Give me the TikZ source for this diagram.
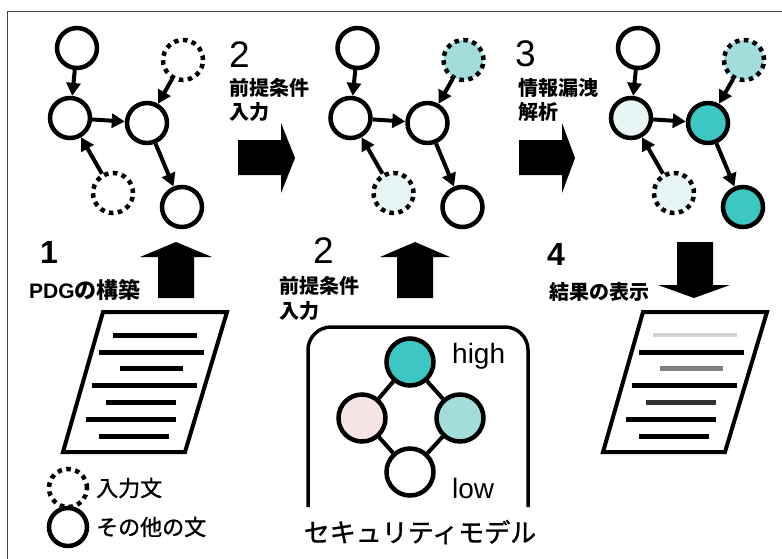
\documentclass[tikz,border=0pt]{standalone}
\usepackage{fontspec}
\setmainfont{Liberation Sans}
\newfontfamily\jp{Noto Sans CJK JP}
\newfontfamily\jpm{Noto Sans CJK JP}[FakeBold=1.2]
\usetikzlibrary{arrows.meta}
\definecolor{tealA}{HTML}{3CC6C4}
\definecolor{tealB}{HTML}{A3DDDB}
\definecolor{tealC}{HTML}{E8F5F5}
\definecolor{pinkA}{HTML}{F6E4E4}
\definecolor{frameC}{HTML}{444444}
\begin{document}
\begin{tikzpicture}[x=1pt,y=-1pt,
  gnode/.style={circle,draw,line width=4.5pt,minimum size=40pt,inner sep=0pt,fill=white},
  gin/.style={gnode,dash pattern=on 4.5pt off 4.5pt},
  garr/.style={line width=4pt,-{Triangle[length=13pt,width=14pt]}},
  bigarrow/.style={fill=black,draw=none},
  docbox/.style={draw,line width=4pt,line join=miter,fill=white},
  docline/.style={line width=5pt},
  lnode/.style={circle,draw,line width=4.5pt,minimum size=47pt,inner sep=0pt},
  jpb/.style={inner sep=0pt,font=\jp\bfseries\fontsize{20}{23}\selectfont,align=left},
  jpr/.style={inner sep=0pt,font=\jpm\fontsize{22}{26}\selectfont},
  bigdigit/.style={inner sep=0pt,anchor=base west,font=\fontsize{37}{40}\selectfont},
  bigdigitb/.style={inner sep=0pt,anchor=base west,font=\bfseries\fontsize{32}{36}\selectfont},
]
\useasboundingbox (0,0) rectangle (782,558);
\clip (0,0) rectangle (782,558);
\fill[white] (0,0) rectangle (782,558);
\draw[frameC,line width=1pt] (7,11) rectangle (800,580);

% ---------- graph 1 ----------
\begin{scope}
\node[gnode] (aT) at (77,48) {};
\node[gin]   (aD) at (183,60) {};
\node[gnode] (aL) at (70,118) {};
\node[gnode] (aM) at (147,123) {};
\node[gin]   (aE) at (113,193) {};
\node[gnode] (aB) at (182,207) {};
\draw[garr] (aT) -- (aL);
\draw[garr] (aL) -- (aM);
\draw[garr] (aD) -- (aM);
\draw[garr] (aE) -- (aL);
\draw[garr] (aM) -- (aB);
\end{scope}

% ---------- graph 2 ----------
\begin{scope}[xshift=280.5pt]
\node[gnode] (bT) at (77,48) {};
\node[gin,fill=tealB]   (bD) at (183,60) {};
\node[gnode] (bL) at (70,118) {};
\node[gnode] (bM) at (147,123) {};
\node[gin,fill=tealC]   (bE) at (113,193) {};
\node[gnode] (bB) at (182,207) {};
\draw[garr] (bT) -- (bL);
\draw[garr] (bL) -- (bM);
\draw[garr] (bD) -- (bM);
\draw[garr] (bE) -- (bL);
\draw[garr] (bM) -- (bB);
\end{scope}

% ---------- graph 3 ----------
\begin{scope}[xshift=561pt]
\node[gnode] (cT) at (77,48) {};
\node[gin,fill=tealB]   (cD) at (183,60) {};
\node[gnode,fill=tealC] (cL) at (70,118) {};
\node[gnode,fill=tealA] (cM) at (147,123) {};
\node[gin,fill=tealC]   (cE) at (113,193) {};
\node[gnode,fill=tealA] (cB) at (182,207) {};
\draw[garr] (cT) -- (cL);
\draw[garr] (cL) -- (cM);
\draw[garr] (cD) -- (cM);
\draw[garr] (cE) -- (cL);
\draw[garr] (cM) -- (cB);
\end{scope}

% ---------- big arrows ----------
\fill[bigarrow] (238,140) -- (281,140) -- (281,123) -- (295,158) -- (281,193) -- (281,175) -- (238,175) -- cycle;
\fill[bigarrow] (519,140) -- (562,140) -- (562,123) -- (575,158) -- (562,193) -- (562,175) -- (519,175) -- cycle;
\fill[bigarrow] (158,298) -- (158,257) -- (140,257) -- (176,242) -- (212,257) -- (194,257) -- (194,298) -- cycle;
\fill[bigarrow] (397,298) -- (397,257) -- (380,257) -- (415,242) -- (450,257) -- (433,257) -- (433,298) -- cycle;
\fill[bigarrow] (677,242) -- (713,242) -- (713,285) -- (730,285) -- (694,298) -- (658,285) -- (677,285) -- cycle;

% ---------- labels ----------
\node[bigdigit] (n2a) at (229,67) {2};
\node[jpb,anchor=west] (t2a) at (229,88) {前提条件};
\node[jpb,anchor=west] (t2b) at (229,112) {入力};
\node[bigdigit] (n3) at (515,66) {3};
\node[jpb,anchor=west] (t3a) at (518,88) {情報漏洩};
\node[jpb,anchor=west] (t3b) at (518,112) {解析};
\node[bigdigitb] (n1) at (40,263) {1};
\node[inner sep=0pt,anchor=west] (t1) at (29,290) {\bfseries\fontsize{21}{26}\selectfont PDG\jp\bfseries\fontsize{22}{26}\selectfont の構築};
\node[bigdigit] (n2b) at (313,263) {2};
\node[jpb,anchor=west] (t2c) at (279,286) {前提条件};
\node[jpb,anchor=west] (t2d) at (279,311) {入力};
\node[bigdigitb] (n4) at (547,265) {4};
\node[jpb,anchor=west] (t4) at (549,292) {結果の表示};

% ---------- documents ----------
\begin{scope}
\draw[docbox] (103,312) -- (227,312) -- (185,452) -- (63,452) -- cycle;
\draw[docline] (113,335) -- (197,335);
\draw[docline] (99,352) -- (204,352);
\draw[docline] (120,368) -- (183,368);
\draw[docline] (92,385) -- (197,385);
\draw[docline] (106,402) -- (176,402);
\draw[docline] (86,419) -- (176,419);
\draw[docline] (99,436) -- (169,436);
\end{scope}
\begin{scope}[xshift=540pt]
\draw[docbox] (103,312) -- (227,312) -- (185,452) -- (63,452) -- cycle;
\draw[docline,black!18,line width=4pt] (113,335) -- (197,335);
\draw[docline] (99,352) -- (204,352);
\draw[docline,black!50] (120,368) -- (183,368);
\draw[docline] (92,385) -- (197,385);
\draw[docline,black!80] (106,402) -- (176,402);
\draw[docline] (86,419) -- (176,419);
\draw[docline] (99,436) -- (169,436);
\end{scope}

% ---------- security model ----------
\draw[line width=3.5pt,rounded corners=23pt] (308,507) -- (308,327) -- (528,327) -- (528,507);
\node[lnode,fill=tealA] (sH) at (410,362) {};
\node[lnode,fill=pinkA] (sL) at (362,418) {};
\node[lnode,fill=tealB] (sR) at (460,418) {};
\node[lnode,fill=white] (sB) at (410,472) {};
\draw[line width=4pt] (sH) -- (sL);
\draw[line width=4pt] (sH) -- (sR);
\draw[line width=4pt] (sL) -- (sB);
\draw[line width=4pt] (sR) -- (sB);
\node[inner sep=0pt,anchor=base west,font=\fontsize{28}{30}\selectfont] (hi) at (452,363) {high};
\node[inner sep=0pt,anchor=base west,font=\fontsize{28}{30}\selectfont] (lo) at (452,498) {low};
\node[inner sep=0pt,font=\jpm\fontsize{26}{30}\selectfont] (sm) at (420,532) {セキュリティモデル};

% ---------- legend ----------
\node[gin,minimum size=38pt] (lgD) at (68,488) {};
\node[gnode,minimum size=38pt] (lgS) at (68,527) {};
\node[jpr,anchor=west] (lgDt) at (96,488) {入力文};
\node[jpr,anchor=west] (lgSt) at (96,527) {その他の文};
\end{tikzpicture}
\end{document}
